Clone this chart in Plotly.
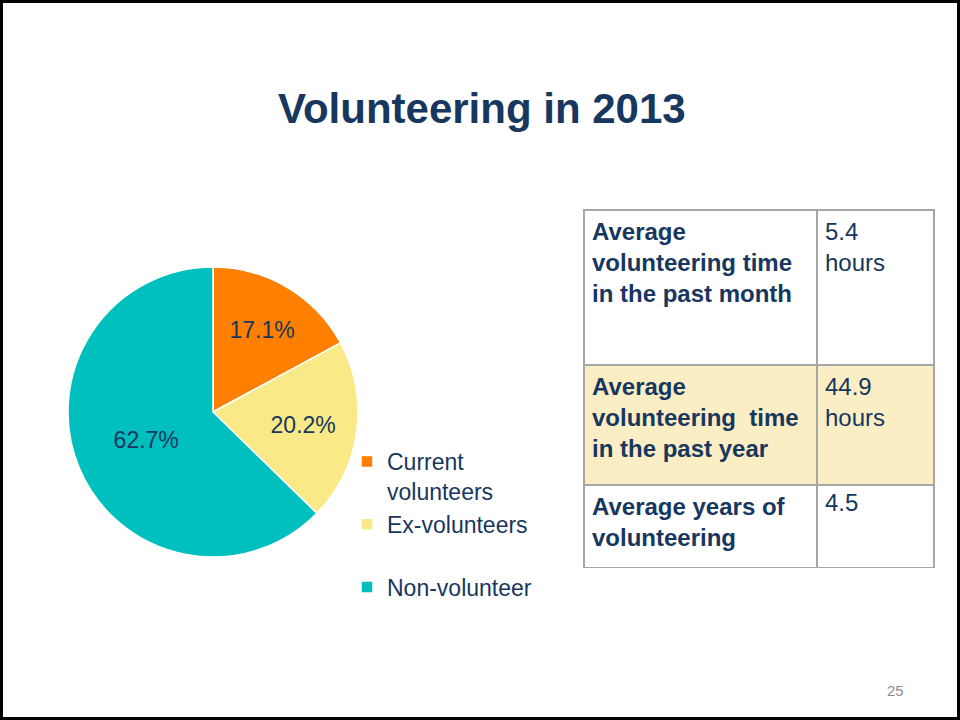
import plotly.graph_objects as go

# ---- data ----
slice_labels = ["Current<br>volunteers", "Ex-volunteers<br> ", "Non-volunteer"]
slice_values = [17.1, 20.2, 62.7]
slice_colors = ["#FF8000", "#FAEA87", "#00BFBF"]

row_labels = ["Average<br>volunteering time<br>in the past month",
              "Average<br>volunteering  time<br>in the past year",
              "Average years of<br>volunteering"]
row_values = ["5.4<br>hours", "44.9<br>hours", "4.5"]
row_fills = ["white", "#FCEEC4", "white"]

title_text = "Volunteering in 2013"
page_number = "25"

NAVY = "#17375E"
FONT = "Arial, Liberation Sans, sans-serif"
W, H = 960, 720

fig = go.Figure()

fig.add_trace(go.Pie(
    labels=slice_labels, values=slice_values,
    marker=dict(colors=slice_colors, line=dict(color="white", width=1.5)),
    sort=False, direction="clockwise", rotation=0,
    texttemplate="%{value:.1f}%", textposition="inside",
    insidetextorientation="horizontal",
    textfont=dict(family=FONT, size=23, color=NAVY),
    domain=dict(x=[68 / W, 358 / W], y=[1 - 557 / H, 1 - 267 / H]),
    hoverinfo="percent",
))

# table rows (each row its own table so that row heights can differ)
row_tops = [210, 365, 485, 568]
for i in range(3):
    y0, y1 = row_tops[i], row_tops[i + 1]
    fig.add_trace(go.Table(
        domain=dict(x=[584 / W, 934 / W], y=[1 - (y1 + 1) / H, 1 - y0 / H]),
        columnwidth=[233, 117],
        header=dict(
            values=[f"<b>{row_labels[i]}</b>", row_values[i]],
            align="left",
            height=y1 - y0,
            fill=dict(color=row_fills[i]),
            line=dict(color="#A6A6A6", width=1.5),
            font=dict(family=FONT, size=24, color=NAVY),
        ),
        cells=dict(values=[[], []], height=1,
                   line=dict(width=0), fill=dict(color="rgba(0,0,0,0)")),
    ))

fig.update_layout(
    width=W, height=H,
    margin=dict(l=0, r=0, t=0, b=0),
    paper_bgcolor="white", plot_bgcolor="white",
    showlegend=True,
    legend=dict(
        x=347 / W, y=1 - 440 / H, xanchor="left", yanchor="top",
        font=dict(family=FONT, size=23, color=NAVY),
        valign="top", bgcolor="rgba(0,0,0,0)",
    ),
    annotations=[
        dict(text=f"<b>{title_text}</b>", x=482 / W, y=1 - 108 / H,
             xref="paper", yref="paper", showarrow=False,
             font=dict(family=FONT, size=42, color=NAVY),
             xanchor="center", yanchor="middle"),
        dict(text=page_number, x=895 / W, y=1 - 690 / H,
             xref="paper", yref="paper", showarrow=False,
             font=dict(family=FONT, size=15, color="#8C8C8C"),
             xanchor="center", yanchor="middle"),
    ],
    shapes=[
        dict(type="rect", xref="paper", yref="paper",
             x0=1.5 / W, x1=1 - 1.5 / W, y0=1.5 / H, y1=1 - 1.5 / H,
             line=dict(color="black", width=3)),
    ],
)

fig.write_html("out.html")
